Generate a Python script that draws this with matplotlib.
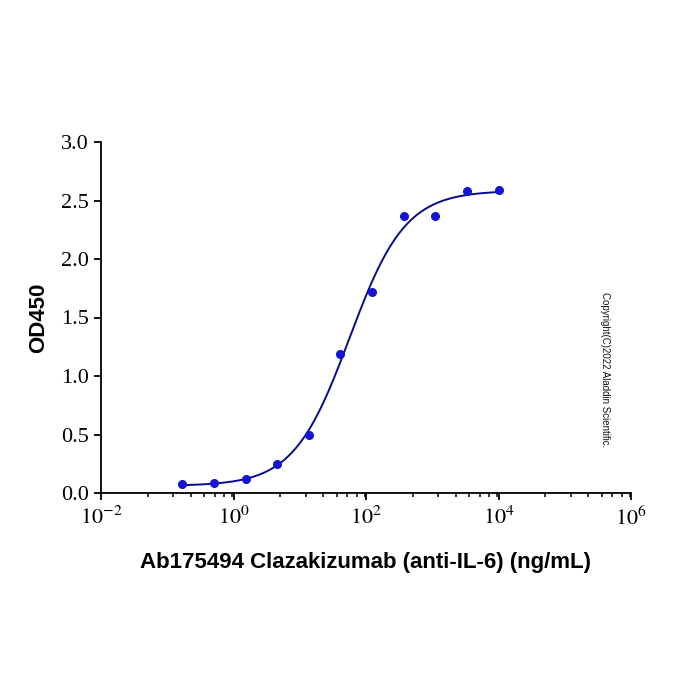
import numpy as np
import matplotlib
matplotlib.use("Agg")
import matplotlib.pyplot as plt
from matplotlib.ticker import FixedLocator, FuncFormatter, NullFormatter

# data
conc = [0.169, 0.508, 1.52, 4.57, 13.7, 41.2, 123, 370, 1111, 3333, 10000]
od450 = [0.074, 0.083, 0.12, 0.245, 0.496, 1.185, 1.718, 2.37, 2.37, 2.58, 2.59]

x_major = [1e-2, 1e0, 1e2, 1e4, 1e6]
y_ticks = [0.0, 0.5, 1.0, 1.5, 2.0, 2.5, 3.0]

xlabel = "Ab175494 Clazakizumab (anti-IL-6) (ng/mL)"
ylabel = "OD450"
note = "Copyright(C)2022 Aladdin Scientific."

plt.rcParams["mathtext.fontset"] = "stix"

# 4 parameter logistic fit (grid over ec50 / hill, linear solve for bottom / top)
x = np.array(conc)
y = np.array(od450)
best = None
for lec in np.linspace(0.5, 3.0, 251):
    for h in np.linspace(0.5, 2.0, 151):
        f = 1.0 / (1.0 + (10 ** lec / x) ** h)
        A = np.column_stack([1 - f, f])
        coef, res, rk, sv = np.linalg.lstsq(A, y, rcond=None)
        sse = np.sum((A @ coef - y) ** 2)
        if best is None or sse < best[0]:
            best = (sse, lec, h, coef[0], coef[1])
_, lec, h, bottom, top = best
xs = np.logspace(np.log10(x.min()), np.log10(x.max()), 400)
ys = bottom + (top - bottom) / (1.0 + (10 ** lec / xs) ** h)

fig = plt.figure(figsize=(7, 7), dpi=100)
ax = fig.add_axes([101 / 700, 1 - 493 / 700, 530 / 700, 351 / 700])

ax.plot(xs, ys, color="#0a0a8c", lw=1.4, zorder=2)
ax.plot(conc, od450, "o", color="#1414d2", ms=5.5, mec="#1414d2", zorder=3)

ax.set_xscale("log")
ax.set_xlim(1e-2, 1e6)
ax.set_ylim(0, 3)

minor = []
for m in [-2, 0, 2, 4]:
    for k in range(1, 8):
        minor.append(10 ** (m + 2 * np.log10(1 + 1.25 * k)))
ax.xaxis.set_major_locator(FixedLocator(x_major))
ax.xaxis.set_minor_locator(FixedLocator(minor))
ax.xaxis.set_minor_formatter(NullFormatter())
ax.xaxis.set_major_formatter(FuncFormatter(lambda v, p: r"$\mathrm{10^{%d}}$" % round(np.log10(v))))
ax.set_yticks(y_ticks)
ax.yaxis.set_major_formatter(FuncFormatter(lambda v, p: "%.1f" % v))

for s in ["top", "right"]:
    ax.spines[s].set_visible(False)
for s in ["left", "bottom"]:
    ax.spines[s].set_linewidth(1.3)

ax.tick_params(axis="both", which="major", direction="out", length=5, width=1.3,
               labelsize=16, pad=4)
ax.tick_params(axis="x", which="minor", direction="out", length=3, width=1.1)
for lab in ax.get_yticklabels():
    lab.set_fontfamily("Liberation Serif")

ax.set_xlabel(xlabel, fontsize=16, fontweight="bold", family="Liberation Sans", labelpad=17)
ax.set_ylabel(ylabel, fontsize=16, fontweight="bold", family="Liberation Sans", labelpad=8)

fig.text(605 / 700, 1 - 370 / 700, note, rotation=-90, fontsize=7, family="Liberation Sans",
         ha="center", va="center", color="#111111")

fig.savefig("out.png", dpi=100)
